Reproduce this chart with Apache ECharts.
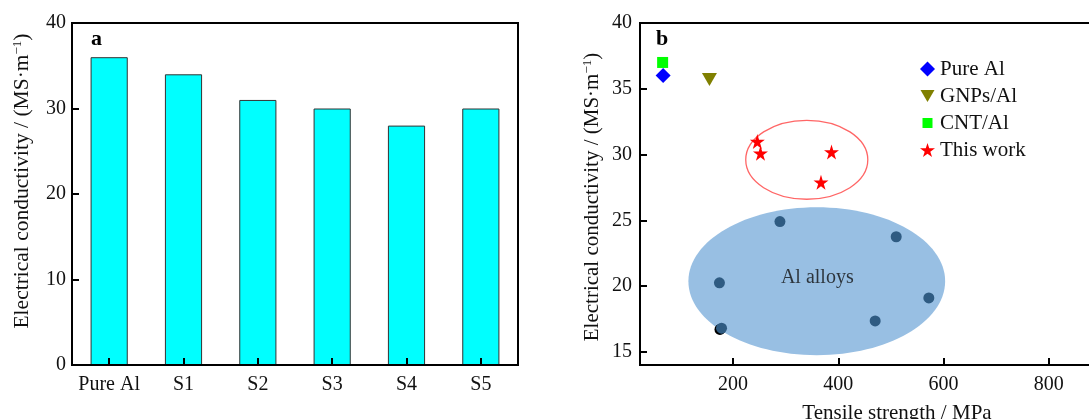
<!DOCTYPE html>
<html>
<head>
<meta charset="utf-8">
<script src="https://cdn.jsdelivr.net/npm/echarts@6/dist/echarts.min.js"></script>
<style>
html,body{margin:0;padding:0;background:#fff;}
#chart{width:1089px;height:419px;}
</style>
</head>
<body>
<div id="chart"></div>
<script>
// ---- data ----
const barCategories = ['Pure Al', 'S1', 'S2', 'S3', 'S4', 'S5'];
const barValues = [36, 34, 31, 30, 28, 30];

const pureAlPts = [[67, 36.0]];
const gnpsAlPts = [[155, 35.7]];
const cntAlPts = [[66, 37.0]];
const thisWorkPts = [[246, 31.0], [252, 30.1], [387, 30.2], [367, 27.9]];
const alloyPts = [[289, 24.9], [510, 23.75], [174, 20.25], [572, 19.1], [470, 17.35], [178, 16.8]];
const alloyShadowPts = [[175, 16.7]];
const workRegion = [[340, 29.6, 116, 3.0]];   // [cx, cy, rx, ry] in data units
const alloyRegion = [[359, 20.37, 244, 5.62]];
const alloyLabel = [[360, 20.6, 'Al alloys']];

const xTicksB = [200, 400, 600, 800];
const yTicksB = [15, 20, 25, 30, 35, 40];

const yName = 'Electrical conductivity / (MS·m{sup|−1})';
const xNameB = 'Tensile strength / MPa';

// ---- styles ----
const FONT = "'Liberation Serif','Times New Roman',serif";
const STAR = 'path://M50,0 L61,35 L98,35 L68,57 L79,91 L50,70 L21,91 L32,57 L2,35 L39,35 Z';
const TRI_DOWN = 'path://M0,0 L10,0 L5,9 Z';
const LEG_SQUARE = 'path://M0,0 M15,15 M2.5,2.5 L12.5,2.5 L12.5,12.5 L2.5,12.5 Z';
const LEG_TRI = 'path://M0,0 M15,15 M0.5,1.5 L14.5,1.5 L7.5,13.5 Z';
function tick() { return {show: true, inside: true, length: 7, lineStyle: {color: '#000', width: 2}}; }
function line() { return {show: true, onZero: false, lineStyle: {color: '#000', width: 2}}; }
const labelStyle = {color: '#111', fontFamily: FONT, fontSize: 20};
function nameStyle(fs, pad) {
  return {
    color: '#111', fontFamily: FONT, fontSize: fs, padding: pad,
    rich: {sup: {fontFamily: FONT, fontSize: 13, verticalAlign: 'top', padding: [0, 0, 9, 0], color: '#111'}}
  };
}

const chart = echarts.init(document.getElementById('chart'), null, {renderer: 'canvas'});

function ellipseRender(fill, stroke, lw) {
  return function (params, api) {
    const c = api.coord([api.value(0), api.value(1)]);
    const s = api.size([api.value(2), api.value(3)]);
    return {
      type: 'ellipse',
      shape: {cx: c[0], cy: c[1], rx: s[0], ry: s[1]},
      style: {fill: fill, stroke: stroke, lineWidth: lw}
    };
  };
}

const option = {
  animation: false,
  backgroundColor: '#fff',
  textStyle: {fontFamily: FONT},
  grid: [
    {left: 72, right: 571, top: 23, bottom: 54, outerBoundsMode: 'none', containLabel: false,
      show: true, borderColor: '#000', borderWidth: 2, backgroundColor: 'transparent'},
    {left: 640, right: -65, top: 23, bottom: 54, outerBoundsMode: 'none', containLabel: false,
      show: true, borderColor: '#000', borderWidth: 2, backgroundColor: 'transparent'}
  ],
  xAxis: [
    {
      type: 'category', gridIndex: 0, data: barCategories, boundaryGap: true, z: 10,
      axisLine: line(), axisTick: Object.assign(tick(), {alignWithLabel: true, interval: 0}),
      axisLabel: Object.assign({margin: 10, interval: 0}, labelStyle), splitLine: {show: false}
    },
    {
      type: 'value', gridIndex: 1, min: 23, max: 1000, z: 10,
      name: xNameB, nameLocation: 'middle', nameGap: 38, nameTextStyle: nameStyle(21, 0),
      axisLine: line(),
      axisTick: Object.assign(tick(), {customValues: xTicksB}),
      axisLabel: Object.assign({margin: 10, customValues: xTicksB}, labelStyle),
      splitLine: {show: false}
    }
  ],
  yAxis: [
    {
      type: 'value', gridIndex: 0, min: 0, max: 40, interval: 10, z: 10,
      name: yName, nameLocation: 'middle', nameGap: 39, nameTextStyle: nameStyle(21.5, [0, 0, 0, 26]),
      axisLine: line(), axisTick: tick(),
      axisLabel: Object.assign({margin: 6}, labelStyle), splitLine: {show: false}
    },
    {
      type: 'value', gridIndex: 1, min: 14, max: 40, z: 10,
      name: yName, nameLocation: 'middle', nameGap: 37, nameTextStyle: nameStyle(21, [0, 6, 0, 0]),
      axisLine: line(),
      axisTick: Object.assign(tick(), {customValues: yTicksB}),
      axisLabel: Object.assign({margin: 8, customValues: yTicksB}, labelStyle),
      splitLine: {show: false}
    }
  ],
  legend: {
    data: [
      {name: 'Pure Al'},
      {name: 'GNPs/Al', icon: LEG_TRI},
      {name: 'CNT/Al', icon: LEG_SQUARE},
      {name: 'This work'}
    ],
    orient: 'vertical',
    left: 915, top: 53,
    itemWidth: 15, itemHeight: 15, itemGap: 5,
    textStyle: {color: '#111', fontFamily: FONT, fontSize: 21, lineHeight: 22},
    selectedMode: false
  },
  graphic: [
    {type: 'text', left: 91, top: 28, style: {text: 'a', font: 'bold 22px ' + FONT, fill: '#000'}},
    {type: 'text', left: 656, top: 28, style: {text: 'b', font: 'bold 22px ' + FONT, fill: '#000'}}
  ],
  series: [
    {
      type: 'bar', xAxisIndex: 0, yAxisIndex: 0, data: barValues, barWidth: '50%',
      itemStyle: {color: '#00FFFF', borderColor: '#333', borderWidth: 1}
    },
    {
      type: 'custom', xAxisIndex: 1, yAxisIndex: 1, data: alloyRegion, z: 1,
      encode: {x: 0, y: 1}, renderItem: ellipseRender('#98BFE3', null, 0), silent: true
    },
    {
      type: 'custom', xAxisIndex: 1, yAxisIndex: 1, data: workRegion, z: 1,
      encode: {x: 0, y: 1}, renderItem: ellipseRender(null, '#FF6666', 1.3), silent: true
    },
    {
      name: 'alloyShadow', type: 'scatter', xAxisIndex: 1, yAxisIndex: 1, data: alloyShadowPts, z: 3,
      symbol: 'circle', symbolSize: 11, itemStyle: {color: '#000', opacity: 1}
    },
    {
      name: 'Al alloys', type: 'scatter', xAxisIndex: 1, yAxisIndex: 1, data: alloyPts, z: 4,
      symbol: 'circle', symbolSize: 11, itemStyle: {color: '#2F5B82', opacity: 1}
    },
    {
      name: 'alloyLabel', type: 'scatter', xAxisIndex: 1, yAxisIndex: 1, data: alloyLabel, z: 5,
      symbolSize: 0,
      label: {show: true, position: 'inside', formatter: function (p) { return p.value[2]; },
        color: '#111', fontFamily: FONT, fontSize: 20}
    },
    {
      name: 'Pure Al', type: 'scatter', xAxisIndex: 1, yAxisIndex: 1, data: pureAlPts, z: 6,
      symbol: 'diamond', symbolSize: [15, 15], itemStyle: {color: '#0000FF', opacity: 1}
    },
    {
      name: 'GNPs/Al', type: 'scatter', xAxisIndex: 1, yAxisIndex: 1, data: gnpsAlPts, z: 6,
      symbol: TRI_DOWN, symbolSize: [15, 13], itemStyle: {color: '#808000', opacity: 1}
    },
    {
      name: 'CNT/Al', type: 'scatter', xAxisIndex: 1, yAxisIndex: 1, data: cntAlPts, z: 6,
      symbol: 'rect', symbolSize: 11, itemStyle: {color: '#00FF00', opacity: 1}
    },
    {
      name: 'This work', type: 'scatter', xAxisIndex: 1, yAxisIndex: 1, data: thisWorkPts, z: 6,
      symbol: STAR, symbolSize: 15, itemStyle: {color: '#FF0000', opacity: 1}
    }
  ]
};
chart.setOption(option);
</script>
</body>
</html>
